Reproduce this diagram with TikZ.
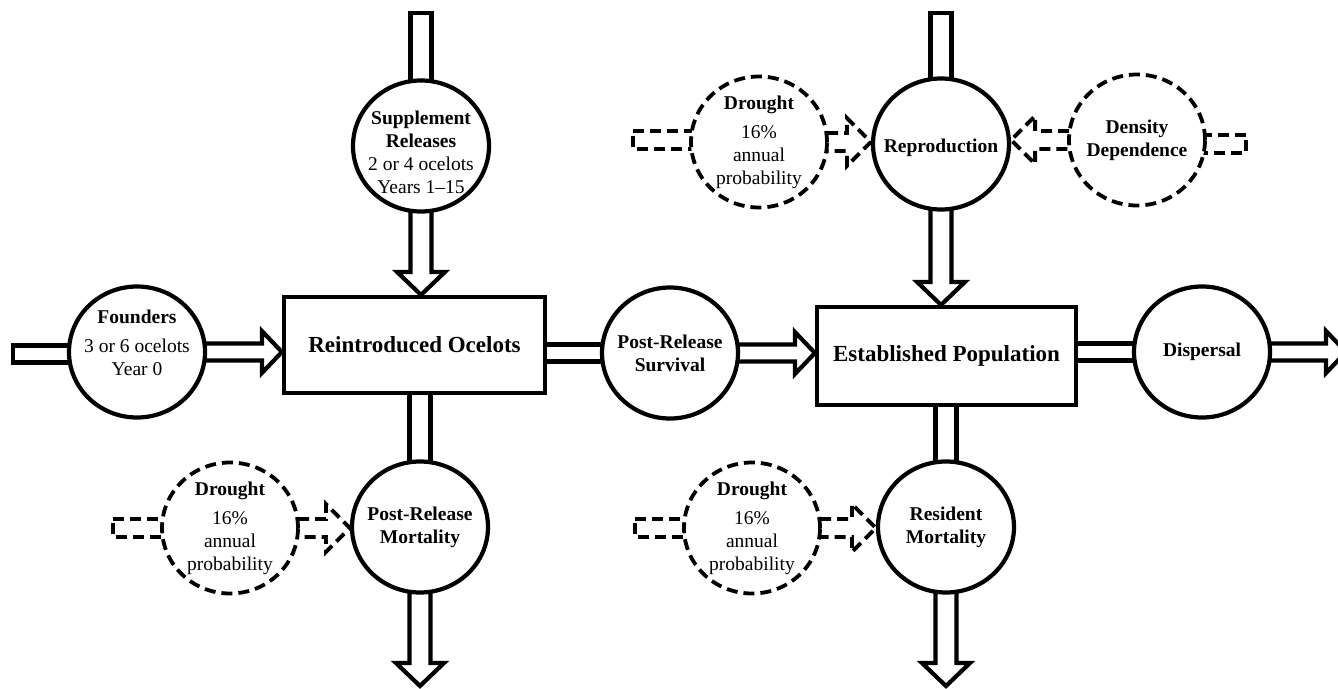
\documentclass[tikz,border=0pt]{standalone}
\usepackage{fontspec}
\setmainfont{Liberation Serif}
\usetikzlibrary{calc,shapes.geometric}
\pgfdeclarelayer{background}
\pgfsetlayers{background,main}
\begin{document}
\begin{tikzpicture}[x=1pt,y=-1pt,
  every node/.style={font=\fontsize{19.5}{23}\selectfont, align=center},
  proc/.style={ellipse, draw, line width=4.2pt, fill=white, minimum width=136pt,
    minimum height=131pt, inner xsep=-14pt, inner ysep=-14pt},
  drv/.style={proc, line width=3.8pt, dash pattern=on 11pt off 6pt},
  stock/.style={rectangle, draw, line width=4.2pt, fill=white, inner sep=0pt,
    font=\fontsize{23}{27}\selectfont\bfseries},
  arrsw/.store in=\asw, arrhw/.store in=\ahw, arrhl/.store in=\ahl,
  flow/.style={draw, line width=4.2pt, line join=miter, fill=white,
    arrsw=8.5pt, arrhw=21pt, arrhl=20pt},
  vflow/.style={draw, line width=4.2pt, line join=miter, fill=white,
    arrsw=10.5pt, arrhw=24pt, arrhl=23pt},
  dflow/.style={draw, line width=3.8pt, line join=miter, fill=white,
    dash pattern=on 11pt off 6pt, arrsw=9pt, arrhw=24pt, arrhl=24pt},
  hpipe/.style={to path={let \p1=(\tikztostart),\p2=(\tikztotarget) in
    (\x1,\y1+\asw) -- (\x2,\y1+\asw) -- (\x2,\y1-\asw) -- (\x1,\y1-\asw) -- cycle}},
  rarrow/.style={to path={let \p1=(\tikztostart),\p2=(\tikztotarget) in
    (\x1,\y1+\asw) -- (\x2-\ahl,\y1+\asw) -- (\x2-\ahl,\y1+\ahw) -- (\x2,\y1)
    -- (\x2-\ahl,\y1-\ahw) -- (\x2-\ahl,\y1-\asw) -- (\x1,\y1-\asw) -- cycle}},
  larrow/.style={to path={let \p1=(\tikztostart),\p2=(\tikztotarget) in
    (\x1,\y1+\asw) -- (\x2+\ahl,\y1+\asw) -- (\x2+\ahl,\y1+\ahw) -- (\x2,\y1)
    -- (\x2+\ahl,\y1-\ahw) -- (\x2+\ahl,\y1-\asw) -- (\x1,\y1-\asw) -- cycle}},
  vpipe/.style={to path={let \p1=(\tikztostart),\p2=(\tikztotarget) in
    (\x1+\asw,\y1) -- (\x1+\asw,\y2) -- (\x1-\asw,\y2) -- (\x1-\asw,\y1) -- cycle}},
  darrow/.style={to path={let \p1=(\tikztostart),\p2=(\tikztotarget) in
    (\x1+\asw,\y1) -- (\x1+\asw,\y2+\ahl) -- (\x1+\ahw,\y2+\ahl) -- (\x1,\y2)
    -- (\x1-\ahw,\y2+\ahl) -- (\x1-\asw,\y2+\ahl) -- (\x1-\asw,\y1) -- cycle}},
]
\useasboundingbox (0,0) rectangle (1338,688);

% stocks
\node[stock, minimum width=261pt, minimum height=96pt] (ro) at (414.5,345) {Reintroduced Ocelots};
\node[stock, minimum width=259pt, minimum height=98pt] (ep) at (946.5,356) {Established Population};

% processes
\node[proc] (found) at (137,352) {\textbf{Founders}\\[6pt]3 or 6 ocelots\\Year 0\rule[-19pt]{0pt}{1pt}};
\node[proc] (supp) at (421,146) {\rule{0pt}{26pt}\textbf{Supplement}\\\textbf{Releases}\\2 or 4 ocelots\\Years 1--15};
\node[proc] (surv) at (670,353) {\textbf{Post-Release}\\\textbf{Survival}};
\node[proc] (repro) at (941,144) {\rule{0pt}{22pt}\textbf{Reproduction}};
\node[proc] (disp) at (1202,352) {\textbf{Dispersal}};
\node[proc] (prm) at (420,527) {\textbf{Post-Release}\\\textbf{Mortality}};
\node[proc] (rm) at (946,527) {\textbf{Resident}\\\textbf{Mortality}};

% drivers
\node[drv] (drT) at (759,142) {\textbf{Drought}\\[6pt]16\%\\annual\\probability};
\node[drv] (dens) at (1137,140) {\textbf{Density}\\\textbf{Dependence}};
\node[drv] (drL) at (230,528) {\textbf{Drought}\\[6pt]16\%\\annual\\probability};
\node[drv] (drR) at (752,528) {\textbf{Drought}\\[6pt]16\%\\annual\\probability};

% free ends
\coordinate (in1) at (13,354);
\coordinate (out1) at (1346,352);
\coordinate (in2) at (421,13);
\coordinate (out2) at (421,686);
\coordinate (in3) at (941,13);
\coordinate (out3) at (946,686);
\coordinate (inT) at (633,140);
\coordinate (inD) at (1246,144);
\coordinate (inL) at (113,528);
\coordinate (inR) at (635,528);

\begin{pgfonlayer}{background}
\draw[flow,hpipe] (in1) to (found);
\draw[flow,rarrow] (found) to (ro.west);
\draw[flow,hpipe] (surv) to (ro);
\draw[flow,rarrow] (surv) to (ep.west);
\draw[flow,hpipe] (disp) to (ep);
\draw[flow,rarrow] (disp) to (out1);
\draw[vflow,vpipe] (in2) to (supp);
\draw[vflow,darrow] (supp) to (ro.north);
\draw[vflow,vpipe] (prm) to (ro);
\draw[vflow,darrow] (prm) to (out2);
\draw[vflow,vpipe] (in3) to (repro);
\draw[vflow,darrow] (repro) to (ep.north);
\draw[vflow,vpipe] (rm) to (ep);
\draw[vflow,darrow] (rm) to (out3);
\draw[dflow,hpipe] (inT) to (drT);
\draw[dflow,rarrow] (drT) to (repro.west);
\draw[dflow,hpipe] (inD) to (dens);
\draw[dflow,larrow] (dens) to (repro.east);
\draw[dflow,hpipe] (inL) to (drL);
\draw[dflow,rarrow] (drL) to (prm.west);
\draw[dflow,hpipe] (inR) to (drR);
\draw[dflow,rarrow] (drR) to (rm.west);
\end{pgfonlayer}
\end{tikzpicture}
\end{document}
